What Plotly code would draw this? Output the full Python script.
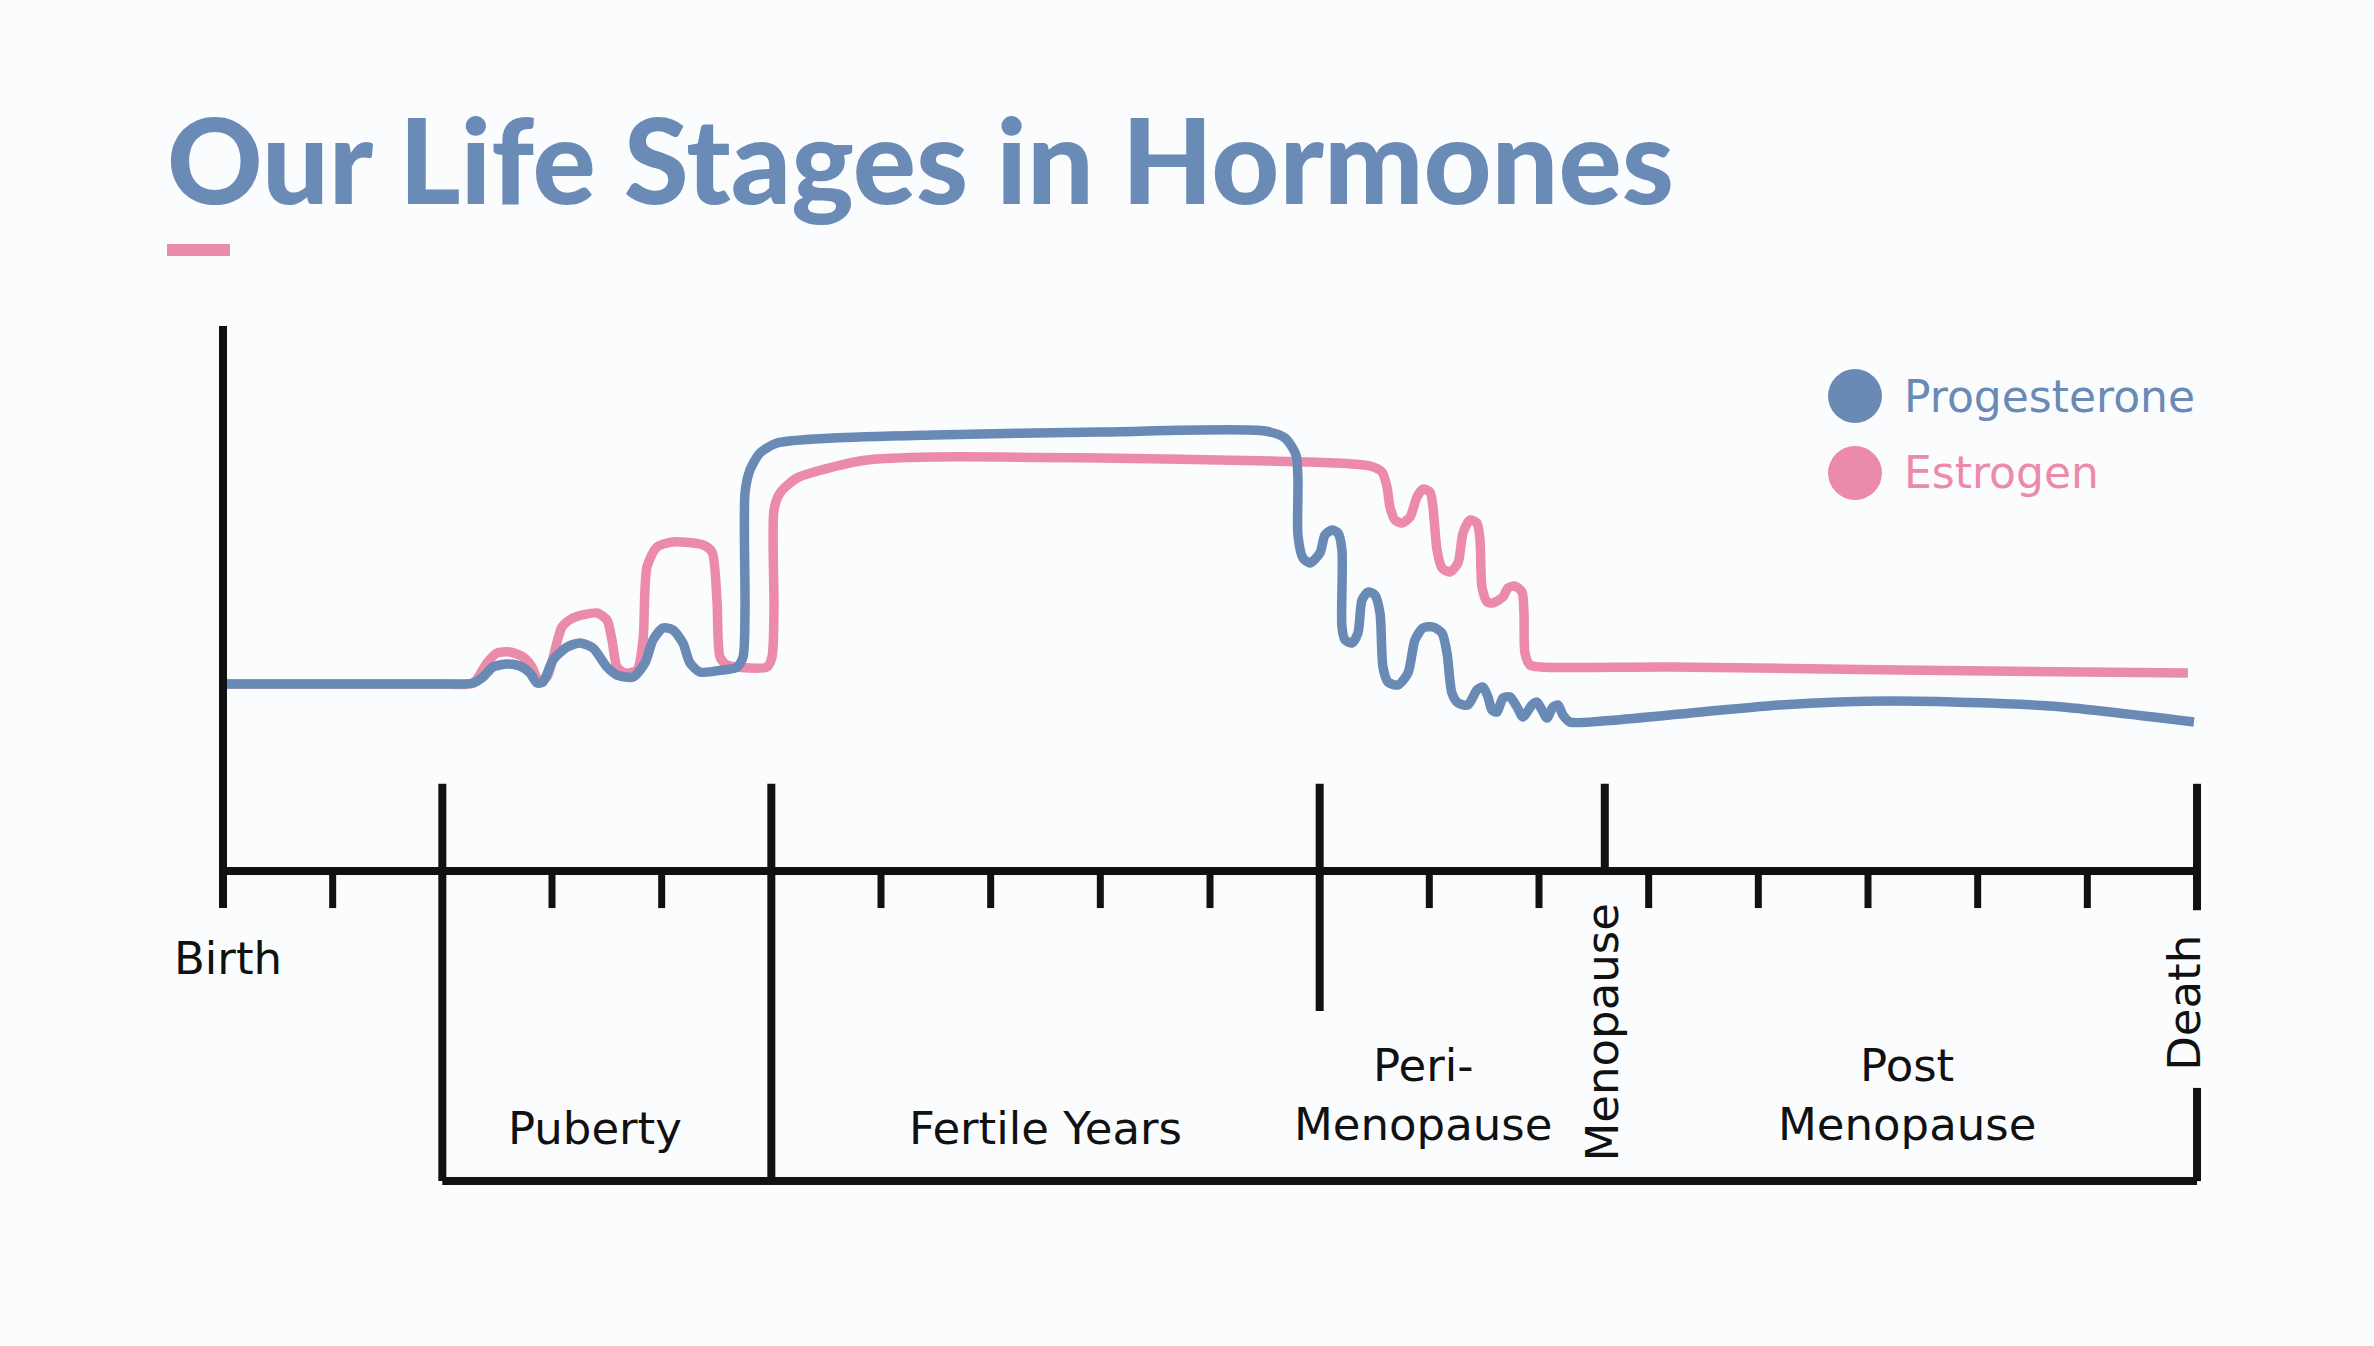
import plotly.graph_objects as go

# ---------------- data ----------------
# x in life-stage tick units (Birth = 0, Death = 18), y = relative hormone level
minor_ticks = [1, 3, 4, 6, 7, 8, 9, 11, 12, 13, 14, 15, 16, 17]
stage_bounds = [2, 5, 10, 18]          # puberty, fertile years, peri-menopause, death
menopause_at = 12.6

prog_x = [0.000, 1.979, 2.280, 2.371, 2.462, 2.590, 2.708, 2.799, 2.863, 2.918, 3.009, 3.137,
          3.255, 3.374, 3.501, 3.593, 3.739, 3.848, 3.921, 4.012, 4.103, 4.194, 4.258, 4.349,
          4.559, 4.687, 4.742, 4.760, 4.760, 4.805, 4.897, 5.052, 5.562, 6.474, 7.997, 9.501,
          9.684, 9.784, 9.802, 9.802, 9.848, 9.912, 10.003, 10.048, 10.112, 10.167, 10.203,
          10.203, 10.231, 10.295, 10.349, 10.386, 10.441, 10.504, 10.550, 10.577, 10.623,
          10.714, 10.805, 10.869, 10.942, 11.033, 11.115, 11.161, 11.206, 11.261, 11.352,
          11.434, 11.489, 11.535, 11.571, 11.617, 11.671, 11.735, 11.799, 11.854, 11.936,
          11.981, 12.027, 12.073, 12.127, 12.173, 12.218, 12.282, 12.583, 13.194, 14.197,
          15.218, 16.659, 17.972]
prog_y = [3.430, 3.430, 3.450, 3.560, 3.743, 3.798, 3.761, 3.633, 3.450, 3.468, 3.872, 4.110,
          4.183, 4.092, 3.743, 3.596, 3.560, 3.817, 4.239, 4.459, 4.422, 4.183, 3.817, 3.651,
          3.688, 3.743, 3.927, 4.789, 6.936, 7.358, 7.670, 7.853, 7.945, 8.000, 8.055, 8.073,
          7.945, 7.633, 7.174, 6.165, 5.743, 5.651, 5.835, 6.165, 6.257, 6.202, 5.890,
          4.477, 4.239, 4.183, 4.367, 4.972, 5.119, 5.064, 4.734, 3.743, 3.468,
          3.413, 3.633, 4.239, 4.459, 4.477, 4.367, 4.000, 3.266, 3.083, 3.046,
          3.321, 3.376, 3.193, 2.954, 2.917, 3.174, 3.193, 3.009, 2.826, 3.046,
          3.101, 2.954, 2.807, 3.009, 3.046, 2.862, 2.734, 2.752, 2.862, 3.046,
          3.119, 3.028, 2.734]

estr_x = [0.000, 1.979, 2.280, 2.407, 2.498, 2.617, 2.736, 2.818, 2.872, 2.954, 3.027, 3.091,
          3.191, 3.410, 3.501, 3.547, 3.593, 3.666, 3.775, 3.830, 3.866, 3.957, 4.103, 4.377,
          4.459, 4.504, 4.532, 4.596, 4.805, 4.960, 5.006, 5.024, 5.024, 5.079, 5.234, 5.562,
          5.872, 6.474, 7.997, 9.547, 10.158, 10.459, 10.568, 10.614, 10.641, 10.687, 10.751,
          10.824, 10.887, 10.942, 11.006, 11.033, 11.070, 11.115, 11.188, 11.261, 11.307,
          11.371, 11.434, 11.462, 11.480, 11.526, 11.580, 11.671, 11.717, 11.781, 11.845,
          11.863, 11.872, 11.918, 12.009, 13.194, 15.291, 17.917]
estr_y = [3.430, 3.430, 3.450, 3.817, 4.000, 4.018, 3.927, 3.743, 3.505, 3.560, 4.055, 4.477,
          4.642, 4.734, 4.606, 4.239, 3.743, 3.633, 3.688, 4.239, 5.578, 5.945, 6.037, 5.982,
          5.853, 4.972, 3.927, 3.780, 3.725, 3.743, 3.927, 4.789, 6.624, 6.936, 7.211, 7.413,
          7.541, 7.596, 7.578, 7.523, 7.486, 7.431, 7.321, 7.046, 6.679, 6.440, 6.385,
          6.495, 6.862, 7.009, 6.954, 6.679, 5.890, 5.560, 5.486, 5.651, 6.202,
          6.440, 6.385, 6.073, 5.211, 4.936, 4.917, 5.028, 5.193, 5.229, 5.119,
          4.734, 4.000, 3.780, 3.743, 3.743, 3.688, 3.633]

stage_labels = ["Puberty", "Fertile Years", "Peri-<br>Menopause", "Post<br>Menopause"]
stage_label_x = [3.39, 7.50, 10.94, 15.36]
series_names = ["Progesterone", "Estrogen"]
title_text = "Our Life Stages in Hormones"

# ---------------- style ----------------
BLUE = "#6a8ab6"
PINK = "#ec8aac"
INK = "#111111"
BG = "#fbfcfe"
W, H = 2374, 1346
LABEL_FONT = dict(family="DejaVu Sans", size=45, color=INK)

fig = go.Figure()
fig.add_trace(go.Scatter(x=estr_x, y=estr_y, mode="lines", name=series_names[1],
                         line=dict(color=PINK, width=9.5, shape="spline", smoothing=0.7),
                         showlegend=False, hoverinfo="skip"))
fig.add_trace(go.Scatter(x=prog_x, y=prog_y, mode="lines", name=series_names[0],
                         line=dict(color=BLUE, width=9.5, shape="spline", smoothing=0.7),
                         showlegend=False, hoverinfo="skip"))

shapes = []
def seg(x0, y0, x1, y1, w=8):
    shapes.append(dict(type="line", xref="x", yref="y", x0=x0, y0=y0, x1=x1, y1=y1,
                       line=dict(color=INK, width=w)))

axis_top, tick_down, big_up, bracket_y = 10, -0.68, 1.6, -5.69
seg(0, tick_down, 0, axis_top)
seg(0, 0, stage_bounds[-1], 0)
for t in minor_ticks:
    seg(t, 0, t, tick_down, 7)
for b in stage_bounds + [menopause_at]:
    seg(b, 0, b, big_up)
seg(stage_bounds[0], 0, stage_bounds[0], bracket_y)
seg(stage_bounds[1], 0, stage_bounds[1], bracket_y)
seg(stage_bounds[2], 0, stage_bounds[2], -2.57)
seg(stage_bounds[3], 0, stage_bounds[3], -0.72)
seg(stage_bounds[3], -3.98, stage_bounds[3], bracket_y)
seg(stage_bounds[0], bracket_y, stage_bounds[3], bracket_y)

# title underline bar
shapes.append(dict(type="rect", xref="paper", yref="paper", x0=167 / W, x1=230 / W,
                   y0=1 - 256 / H, y1=1 - 244 / H, fillcolor=PINK, line=dict(width=0)))
# legend dots
for cy, col in [(396, BLUE), (473, PINK)]:
    shapes.append(dict(type="circle", xref="paper", yref="paper", x0=1828 / W, x1=1882 / W,
                       y0=1 - (cy + 27) / H, y1=1 - (cy - 27) / H, fillcolor=col, line=dict(width=0)))

annotations = [
    dict(text=title_text, xref="paper", yref="paper", x=165 / W, y=1 - 158 / H,
         xanchor="left", yanchor="middle", showarrow=False,
         font=dict(family="Lato", size=118, color="#6b8bb7", weight=900)),
    dict(text=series_names[0], xref="paper", yref="paper", x=1902 / W, y=1 - 396 / H,
         xanchor="left", yanchor="middle", showarrow=False,
         font=dict(family="DejaVu Sans", size=44, color=BLUE)),
    dict(text=series_names[1], xref="paper", yref="paper", x=1902 / W, y=1 - 473 / H,
         xanchor="left", yanchor="middle", showarrow=False,
         font=dict(family="DejaVu Sans", size=44, color=PINK)),
    dict(text="Birth", x=0.05, y=-1.6, xref="x", yref="y", showarrow=False, font=LABEL_FONT),
    dict(text="Menopause", x=menopause_at - 0.02, y=-2.97, xref="x", yref="y", showarrow=False,
         textangle=-90, font=LABEL_FONT),
    dict(text="Death", x=stage_bounds[3] - 0.11, y=-2.42, xref="x", yref="y", showarrow=False,
         textangle=-90, font=LABEL_FONT),
]
for lab, lx in zip(stage_labels, stage_label_x):
    ly = -4.72 if "<br>" not in lab else -4.11
    annotations.append(dict(text=lab, x=lx, y=ly, xref="x", yref="y", showarrow=False,
                            font=LABEL_FONT))

px_per_x = (2197 - 223) / 18
px_per_y = 54.5
fig.update_layout(
    width=W, height=H, margin=dict(l=0, r=0, t=0, b=0),
    paper_bgcolor=BG, plot_bgcolor=BG,
    xaxis=dict(range=[-223 / px_per_x, 18 + (W - 2197) / px_per_x], visible=False, fixedrange=True),
    yaxis=dict(range=[-(H - 871) / px_per_y, 871 / px_per_y], visible=False, fixedrange=True),
    shapes=shapes, annotations=annotations, showlegend=False,
)

fig.write_html("out.html", post_script="document.body.style.margin='0';",
               config={"displayModeBar": False})
